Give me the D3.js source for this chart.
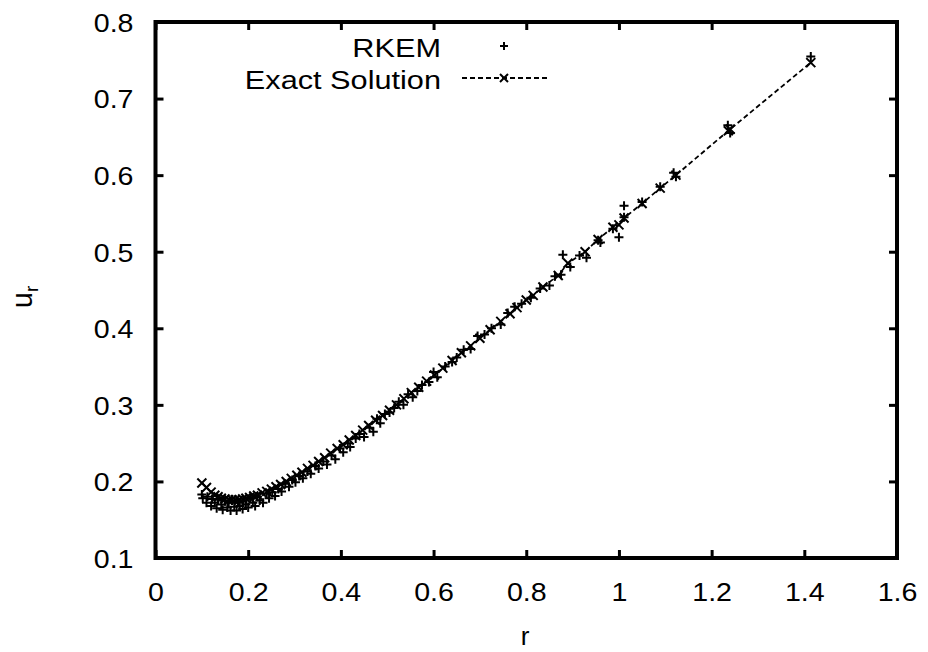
<!DOCTYPE html>
<html>
<body style="margin:0">
    <style>
        body {
            font: 26px "Liberation Sans", Arial, sans-serif;
            background: #fff;
        }
    </style>
    <div class="container"></div>

    <script src="https://d3js.org/d3.v7.min.js"></script>

    <script>

// exact solution nodes (x markers, joined by a dashed line)
var exactR = [0.100, 0.110, 0.120, 0.128, 0.135, 0.142, 0.150, 0.158, 0.165, 0.172,
              0.180, 0.188, 0.195, 0.203, 0.212, 0.220, 0.230, 0.240, 0.250, 0.260,
              0.270, 0.282, 0.293, 0.305, 0.316, 0.328, 0.340, 0.352, 0.365, 0.378,
              0.392, 0.405, 0.418, 0.432, 0.447, 0.460, 0.475, 0.490, 0.505, 0.520,
              0.536, 0.552, 0.568, 0.585, 0.602, 0.620, 0.640, 0.660, 0.680, 0.700,
              0.722, 0.745, 0.765, 0.780, 0.800, 0.815, 0.836, 0.869, 0.890, 0.927,
              0.955, 0.987, 1.000, 1.011, 1.050, 1.089, 1.123, 1.236, 1.240, 1.414];
var exactU = [0.198, 0.192, 0.186, 0.182, 0.180, 0.178, 0.177, 0.176, 0.176, 0.176,
              0.176, 0.177, 0.178, 0.179, 0.181, 0.182, 0.185, 0.187, 0.190, 0.193,
              0.196, 0.200, 0.204, 0.208, 0.212, 0.217, 0.221, 0.226, 0.231, 0.237,
              0.243, 0.248, 0.254, 0.260, 0.267, 0.273, 0.280, 0.286, 0.293, 0.300,
              0.308, 0.316, 0.323, 0.331, 0.339, 0.348, 0.358, 0.368, 0.377, 0.387,
              0.398, 0.409, 0.419, 0.427, 0.437, 0.443, 0.454, 0.469, 0.485, 0.500,
              0.516, 0.532, 0.535, 0.544, 0.563, 0.583, 0.600, 0.658, 0.660, 0.747];

// RKEM results (+ markers)
var rkemR = [0.100, 0.102, 0.110, 0.112, 0.120, 0.122, 0.128, 0.132, 0.135, 0.142,
             0.145, 0.150, 0.155, 0.158, 0.162, 0.165, 0.170, 0.175, 0.178, 0.182,
             0.188, 0.190, 0.195, 0.200, 0.205, 0.210, 0.215, 0.220, 0.225, 0.232,
             0.240, 0.245, 0.252, 0.258, 0.265, 0.272, 0.280, 0.288, 0.295, 0.302,
             0.310, 0.318, 0.328, 0.335, 0.345, 0.352, 0.362, 0.370, 0.380, 0.388,
             0.398, 0.405, 0.415, 0.420, 0.432, 0.440, 0.450, 0.462, 0.470, 0.478,
             0.485, 0.495, 0.505, 0.515, 0.525, 0.535, 0.545, 0.555, 0.565, 0.575,
             0.590, 0.600, 0.608, 0.625, 0.640, 0.650, 0.665, 0.680, 0.695, 0.710,
             0.725, 0.745, 0.760, 0.775, 0.790, 0.810, 0.830, 0.850, 0.862, 0.875,
             0.879, 0.895, 0.915, 0.930, 0.955, 0.960, 0.987, 1.000, 1.011, 1.011,
             1.050, 1.089, 1.118, 1.123, 1.235, 1.240, 1.414];
var rkemU = [0.183, 0.178, 0.172, 0.180, 0.168, 0.177, 0.172, 0.165, 0.176, 0.170,
             0.163, 0.174, 0.166, 0.172, 0.162, 0.175, 0.167, 0.162, 0.173, 0.168,
             0.164, 0.175, 0.170, 0.166, 0.178, 0.172, 0.168, 0.180, 0.175, 0.172,
             0.184, 0.178, 0.186, 0.181, 0.190, 0.187, 0.197, 0.193, 0.202, 0.199,
             0.207, 0.204, 0.213, 0.210, 0.220, 0.217, 0.226, 0.222, 0.234, 0.229,
             0.243, 0.238, 0.250, 0.245, 0.256, 0.262, 0.258, 0.270, 0.265, 0.282,
             0.276, 0.288, 0.290, 0.296, 0.304, 0.300, 0.314, 0.310, 0.318, 0.326,
             0.330, 0.343, 0.336, 0.350, 0.356, 0.362, 0.372, 0.373, 0.390, 0.392,
             0.400, 0.405, 0.420, 0.428, 0.432, 0.440, 0.452, 0.456, 0.468, 0.470,
             0.496, 0.480, 0.495, 0.492, 0.515, 0.512, 0.530, 0.519, 0.560, 0.545,
             0.565, 0.585, 0.603, 0.598, 0.665, 0.655, 0.755];

var xTicks = [0, 0.2, 0.4, 0.6, 0.8, 1, 1.2, 1.4, 1.6];
var yTicks = [0.1, 0.2, 0.3, 0.4, 0.5, 0.6, 0.7, 0.8];

var width = 928,
    height = 652,
    fontSize = 26;

var svg = d3.select(".container")
    .append("svg")
    .attr("width", width)
    .attr("height", height)
    .style("font-family", "'Liberation Sans', Arial, sans-serif");

var x = d3.scaleLinear().domain([0, 1.6]).range([155.5, 897]);
var y = d3.scaleLinear().domain([0.1, 0.8]).range([558, 22]);

function fmt(d) { return d3.format("")(+d.toFixed(1)); }

// the original text is a bit wider than Liberation Sans
function stretch(sel, k) {
  sel.each(function() {
    var w = this.getComputedTextLength();
    d3.select(this).attr("textLength", w * k).attr("lengthAdjust", "spacingAndGlyphs");
  });
}

// axes with inward ticks
var gx = svg.append("g")
    .attr("transform", "translate(0," + y.range()[0] + ")")
    .call(d3.axisBottom(x).tickValues(xTicks).tickSize(-8).tickPadding(25).tickFormat(fmt));
svg.append("g")
    .attr("transform", "translate(0," + y.range()[1] + ")")
    .call(d3.axisTop(x).tickValues(xTicks).tickSize(-8).tickFormat(""));
var gy = svg.append("g")
    .attr("transform", "translate(" + x.range()[0] + ",0)")
    .call(d3.axisLeft(y).tickValues(yTicks).tickSize(-8).tickPadding(22).tickFormat(fmt));
svg.append("g")
    .attr("transform", "translate(" + x.range()[1] + ",0)")
    .call(d3.axisRight(y).tickValues(yTicks).tickSize(-8).tickFormat(""));

svg.selectAll(".domain").remove();
svg.selectAll(".tick line").attr("stroke", "#000").attr("stroke-width", 3);
svg.selectAll(".tick text")
    .attr("fill", "#000")
    .style("font-size", fontSize + "px")
    .style("font-family", "'Liberation Sans', Arial, sans-serif")
    .call(stretch, 1.1);
gy.selectAll(".tick text").attr("dy", "0.36em");

// frame
svg.append("rect")
    .attr("x", x.range()[0])
    .attr("y", y.range()[1])
    .attr("width", x.range()[1] - x.range()[0])
    .attr("height", y.range()[0] - y.range()[1])
    .attr("fill", "none")
    .attr("stroke", "#000")
    .attr("stroke-width", 4);

// axis titles
svg.append("text")
    .attr("x", 525)
    .attr("y", 645)
    .attr("text-anchor", "middle")
    .style("font-size", fontSize + "px")
    .text("r");

var yl = svg.append("text")
    .attr("transform", "translate(32,297) rotate(-90)")
    .attr("text-anchor", "middle")
    .style("font-size", "29px");
yl.append("tspan").text("u");
yl.append("tspan").attr("dy", 6).style("font-size", "19px").text("r");

var plus = function(s) { return "M" + (-s) + ",0H" + s + "M0," + (-s) + "V" + s; };
var cross = function(s) { return "M" + (-s) + "," + (-s) + "L" + s + "," + s + "M" + (-s) + "," + s + "L" + s + "," + (-s); };

var exact = exactR.map(function(d, i) { return [d, exactU[i]]; })
    .sort(function(a, b) { return a[0] - b[0]; });
var rkem = rkemR.map(function(d, i) { return [d, rkemU[i]]; });

var line = d3.line()
    .x(function(d) { return x(d[0]); })
    .y(function(d) { return y(d[1]); });

svg.append("path")
    .datum(exact)
    .attr("d", line)
    .attr("fill", "none")
    .attr("stroke", "#000")
    .attr("stroke-width", 1.8)
    .attr("stroke-dasharray", "5,3");

svg.selectAll(".rkem")
    .data(rkem)
  .enter().append("path")
    .attr("class", "rkem")
    .attr("transform", function(d) { return "translate(" + x(d[0]) + "," + y(d[1]) + ")"; })
    .attr("d", plus(4.5))
    .attr("stroke", "#000")
    .attr("stroke-width", 2)
    .attr("fill", "none");

svg.selectAll(".exact")
    .data(exact)
  .enter().append("path")
    .attr("class", "exact")
    .attr("transform", function(d) { return "translate(" + x(d[0]) + "," + y(d[1]) + ")"; })
    .attr("d", cross(4.5))
    .attr("stroke", "#000")
    .attr("stroke-width", 2)
    .attr("fill", "none");

// legend
var legend = svg.append("g");
legend.append("text")
    .attr("x", 441).attr("y", 57)
    .attr("text-anchor", "end")
    .style("font-size", fontSize + "px")
    .text("RKEM");
legend.append("path")
    .attr("transform", "translate(504,46)")
    .attr("d", plus(4))
    .attr("stroke", "#000").attr("stroke-width", 2);
legend.append("text")
    .attr("x", 441).attr("y", 89)
    .attr("text-anchor", "end")
    .style("font-size", fontSize + "px")
    .text("Exact Solution");
legend.selectAll("text").call(stretch, 1.18);
legend.append("line")
    .attr("x1", 462).attr("x2", 547)
    .attr("y1", 78).attr("y2", 78)
    .attr("stroke", "#000").attr("stroke-width", 1.8)
    .attr("stroke-dasharray", "5,3");
legend.append("path")
    .attr("transform", "translate(504,78)")
    .attr("d", cross(4))
    .attr("stroke", "#000").attr("stroke-width", 2);

    </script>
</body>
</html>
